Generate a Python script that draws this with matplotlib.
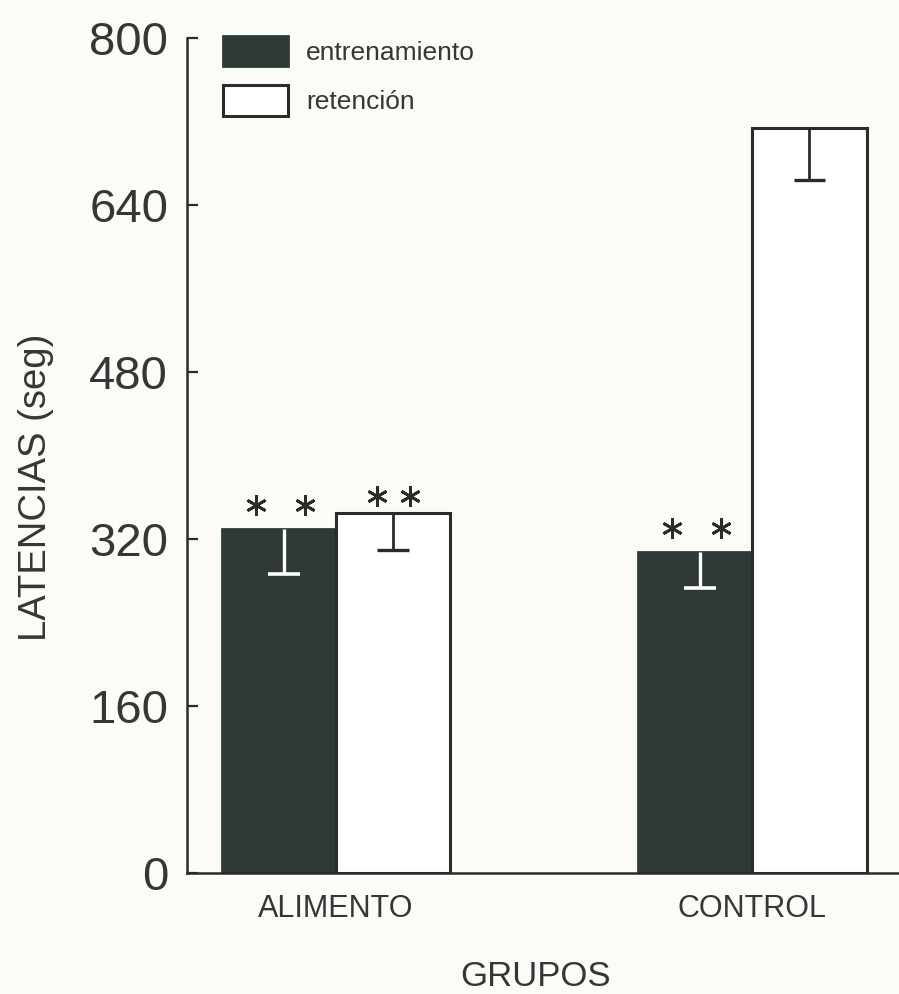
import matplotlib
matplotlib.use('Agg')
import matplotlib.pyplot as plt
from matplotlib.patches import Patch
import numpy as np

# datos
grupos = ['ALIMENTO', 'CONTROL']
entrenamiento = [330, 308]
entrenamiento_err = [44, 35]
retencion = [345, 714]
retencion_err = [36, 50]
# asteriscos sobre cada barra (entrenamiento, retencion)
asteriscos_ent = [True, True]
asteriscos_ret = [True, False]

oscuro = '#2f3a38'
fondo = '#fbfcf8'
linea = '#2b2b2b'
texto = '#363636'

plt.rcParams['font.family'] = ['Liberation Sans', 'DejaVu Sans']

fig = plt.figure(figsize=(8.99, 9.94), dpi=100, facecolor=fondo)
ax = fig.add_axes([187/899, 121/994, 712/899, 835/994])
ax.set_facecolor(fondo)

x = np.arange(len(grupos))
ancho = 0.275

x_ent = x - ancho/2
x_ret = x + ancho/2

ax.bar(x_ent, entrenamiento, width=ancho, color=oscuro, edgecolor=oscuro, linewidth=2, zorder=2)
ax.bar(x_ret, retencion, width=ancho, color='white', edgecolor=linea, linewidth=2.2, zorder=2)

# barras de error hacia abajo
cap = 0.038
for xi, v, e in zip(x_ent, entrenamiento, entrenamiento_err):
    ax.vlines(xi + 0.012, v - e, v, color='white', linewidth=2.4, zorder=3)
    ax.hlines(v - e, xi + 0.012 - cap, xi + 0.012 + cap, color='white', linewidth=2.6, zorder=3)
for xi, v, e in zip(x_ret, retencion, retencion_err):
    ax.vlines(xi, v - e, v, color=linea, linewidth=2, zorder=3)
    ax.hlines(v - e, xi - cap, xi + cap, color=linea, linewidth=2.4, zorder=3)

# asteriscos
for xi, v, s in zip(x_ent, entrenamiento, asteriscos_ent):
    if s:
        ax.plot([xi - 0.055, xi + 0.062], [v + 23, v + 23], linestyle='none', marker=(6, 2, 0),
                markersize=15, color=linea, markeredgewidth=2, zorder=4)
for xi, v, s in zip(x_ret, retencion, asteriscos_ret):
    if s:
        ax.plot([xi - 0.038, xi + 0.04], [v + 16, v + 16], linestyle='none', marker=(6, 2, 0),
                markersize=15, color=linea, markeredgewidth=2, zorder=4)

ax.set_xlim(-0.358, 1.353)
ax.set_ylim(0, 800)
ax.set_yticks([0, 160, 320, 480, 640, 800])
ax.set_xticks(x)
ax.set_xticklabels(grupos, fontsize=22, color=texto)

for s in ['top', 'right']:
    ax.spines[s].set_visible(False)
for s in ['left', 'bottom']:
    ax.spines[s].set_linewidth(1.8)
    ax.spines[s].set_color(linea)

ax.tick_params(axis='y', direction='in', length=8, width=1.6, color=linea,
               labelsize=34, labelcolor=texto, pad=13.5)
ax.tick_params(axis='x', length=0, pad=15)

fig.text(36/899, 1 - 487/994, 'LATENCIAS (seg)', rotation=90, ha='center', va='center',
         fontsize=27.5, color=texto)
fig.text(536/899, 1 - 977/994, 'GRUPOS', ha='center', va='center', fontsize=25, color=texto)

manejadores = [Patch(facecolor=oscuro, edgecolor=oscuro, linewidth=2),
               Patch(facecolor='white', edgecolor=linea, linewidth=2.2)]
ax.legend(manejadores, ['entrenamiento', 'retención'], loc='upper left',
          bbox_to_anchor=(223/899, 1 - 36/994), bbox_transform=fig.transFigure,
          frameon=False, fontsize=19, handlelength=2.45, handleheight=1.4,
          handletextpad=0.7, labelspacing=0.72, borderpad=0, borderaxespad=0,
          labelcolor=texto)

plt.savefig('out.png', dpi=100, facecolor=fondo)
plt.close()
